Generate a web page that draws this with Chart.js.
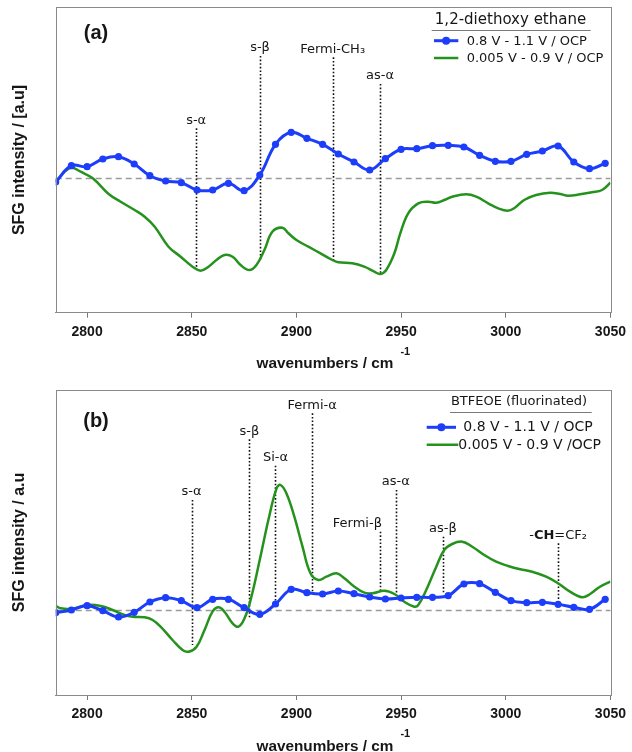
<!DOCTYPE html>
<html>
<head>
<meta charset="utf-8">
<script src="https://cdn.jsdelivr.net/npm/chart.js@4.4.0/dist/chart.umd.min.js"></script>
<style>
html, body { margin: 0; padding: 0; background: #fff; }
#wrap { position: relative; width: 632px; height: 752px; }
canvas { position: absolute; left: 0; }
</style>
</head>
<body>
<div id="wrap">
  <canvas id="chartA" width="632" height="376" style="top:0"></canvas>
  <canvas id="chartB" width="632" height="376" style="top:376px"></canvas>
</div>
<script>
// wavenumber ticks (cm-1)
const wnTicks = [2800, 2850, 2900, 2950, 3000, 3050];

// blue series is sampled every 7.5 cm-1 in both panels
const blueWn = [2785, 2792.5, 2800, 2807.5, 2815, 2822.5, 2830, 2837.5, 2845, 2852.5, 2860, 2867.5,
  2875, 2882.5, 2890, 2897.5, 2905, 2912.5, 2920, 2927.5, 2935, 2942.5, 2950, 2957.5,
  2965, 2972.5, 2980, 2987.5, 2995, 3002.5, 3010, 3017.5, 3025, 3032.5, 3040, 3047.5];

// (a) 1,2-diethoxy ethane
const aBlue = [-4, 12.3, 11.3, 19, 21.3, 14, 2.3, -3, -4.7, -12, -12, -5.3,
  -12.7, 3, 33.7, 45.7, 39.7, 33.7, 24, 16, 8, 19.3, 28.7, 29.3,
  32.3, 32.7, 31, 22.7, 16.7, 16.7, 23.7, 27, 32, 16, 9.3, 14.7];
const aGreenWn = [2785.1, 2789.3, 2792.6, 2796.9, 2802.7, 2810.3, 2816, 2822.7, 2827.5, 2832.3,
  2838.9, 2844.7, 2850.4, 2854.2, 2858, 2861.8, 2865.6, 2869.5, 2873.3, 2877.5,
  2880.9, 2884.7, 2888.5, 2893.3, 2896.2, 2900, 2905.7, 2911.5, 2917.2, 2920,
  2926.7, 2932.4, 2937.2, 2940.1, 2942.9, 2946.8, 2949.6, 2953.4, 2958.2, 2963,
  2966.8, 2970.6, 2974.4, 2981.1, 2985.9, 2991.6, 2996.4, 3000.8, 3004, 3008.8,
  3014.5, 3021.2, 3026, 3029.8, 3035.5, 3041.2, 3046, 3050];
const aGreen = [-4, 6.3, 10.3, 6.3, -0.3, -16, -23.7, -32, -38.7, -48.7,
  -68.7, -78.7, -88.7, -92.7, -88.7, -82, -77, -78.7, -87, -92,
  -87, -72, -53.7, -49.7, -55.3, -62, -68.7, -75.3, -82, -84.3,
  -85.3, -88.7, -93.7, -96, -92, -75.3, -55.3, -35.3, -25.3, -23.7,
  -24.7, -22, -18.7, -16.3, -18.7, -25.3, -30.3, -32.7, -30.3, -22,
  -17, -14.7, -16, -17.7, -16.3, -14.3, -12, -4.7];
const aPeaks = ['s-α', 's-β', 'Fermi-CH₃', 'as-α'];
const aPeakWn = [2852.1, 2882.6, 2917.3, 2939.9];
const aPeakTop = [49.7, 122, 120.7, 94];
const aPeakEnd = [-90.3, -82, -83.7, -96];

// (b) BTFEOE (fluorinated)
const bBlue = [-2.7, 0, 4.3, -0.7, -7, -2.3, 8, 12.3, 9.3, 2.3, 10.7, 10.7,
  2.3, -4.3, 6, 20.7, 17.3, 16, 19, 16.3, 13, 11, 12, 12.7,
  12.7, 14.3, 26, 26.3, 17.7, 9.3, 7.3, 7.7, 5.7, 2.7, 0.7, 10.7];
const bGreenWn = [2785.1, 2787.4, 2792.6, 2800, 2806.5, 2812.2, 2817.9, 2821.8, 2827.5, 2831.3,
  2835.1, 2840.8, 2845.6, 2848.5, 2852.3, 2856.1, 2859.9, 2862.8, 2865.6, 2869.5,
  2872.3, 2875.2, 2878.1, 2882.8, 2886.6, 2890.5, 2892.4, 2895.2, 2899, 2902.9,
  2906.7, 2910.5, 2914.3, 2919.1, 2922.9, 2927.7, 2932.4, 2936.3, 2942, 2946.8,
  2951.5, 2956.3, 2958.2, 2962, 2966.8, 2970.6, 2974.4, 2979.2, 2984, 2989.7,
  2995.4, 3001.1, 3006.9, 3012.6, 3019.3, 3025, 3030.7, 3036.5, 3040.3, 3045, 3050];
const bGreen = [4, 1.7, 1.3, 5, 4, 0, -5, -6.7, -7.3, -10,
  -16.7, -30, -40, -41.7, -36.7, -20, -1.7, 2.7, -1.7, -13.3,
  -16.7, -8.3, 10, 53.3, 90, 121.7, 125, 116.7, 93.3, 63.3,
  36.7, 30, 33.3, 36.7, 31.7, 23.3, 17.3, 16.7, 19.3, 16,
  8.3, 3.3, 5, 20, 43.3, 60, 66, 68.3, 63.3, 55,
  48.3, 44, 40.7, 38.3, 33.3, 26.7, 18.3, 12.7, 16, 23.3, 28.3];
const bPeaks = ['s-α', 's-β', 'Si-α', 'Fermi-α', 'Fermi-β', 'as-α', 'as-β', '-*CH*=CF₂'];
const bPeakWn = [2849.9, 2877.5, 2890, 2907.5, 2939.9, 2947.5, 2970, 3025];
const bPeakTop = [110, 170.7, 144.3, 196.7, 78.3, 120, 73.3, 66.7];
const bPeakEnd = [-35, -8.3, 6.7, 18.3, 18.3, 13.3, 16.7, 6.7];
const bPeakAlign = ['center', 'center', 'center', 'center', 'right', 'center', 'center', 'center'];

const BLUE = 'rgb(28,62,250)';
const GREEN = 'rgb(38,146,30)';
const INK = '#161616';
const SANS = '"Liberation Sans", Arial, sans-serif';
const LABEL = '"DejaVu Sans", sans-serif';

// text with *bold* parts
function richText(ctx, str, x, y, size, align) {
  const parts = str.split('*').map((t, i) => [t, (i % 2 ? 'bold ' : '') + size + 'px ' + LABEL]);
  let w = 0;
  parts.forEach(p => { ctx.font = p[1]; w += ctx.measureText(p[0]).width; });
  let cx = align === 'center' ? x - w / 2 : align === 'right' ? x - w : x;
  ctx.textAlign = 'left';
  parts.forEach(p => { ctx.font = p[1]; ctx.fillText(p[0], cx, y); cx += ctx.measureText(p[0]).width; });
}

function sfgPlugin(p) {
  return {
    id: 'sfg',
    beforeDatasetsDraw(chart) {
      const { ctx, chartArea: a, scales: { x, y } } = chart;
      ctx.save();
      const y0 = Math.round(y.getPixelForValue(0)) + 0.5;
      ctx.strokeStyle = '#9a9a9a';
      ctx.lineWidth = 1.3;
      ctx.setLineDash([6, 4]);
      ctx.beginPath(); ctx.moveTo(a.left, y0); ctx.lineTo(a.right, y0); ctx.stroke();
      ctx.strokeStyle = '#111';
      ctx.lineWidth = 1.6;
      ctx.setLineDash([1.6, 2]);
      p.peakWn.forEach((w, i) => {
        const px = Math.round(x.getPixelForValue(w)) + 0.5;
        ctx.beginPath();
        ctx.moveTo(px, y.getPixelForValue(p.peakTop[i]));
        ctx.lineTo(px, y.getPixelForValue(p.peakEnd[i]));
        ctx.stroke();
      });
      ctx.restore();
    },
    afterDraw(chart) {
      const { ctx, chartArea: a, scales: { x, y } } = chart;
      ctx.save();
      // frame
      ctx.strokeStyle = '#8a8a8a';
      ctx.lineWidth = 1;
      ctx.strokeRect(Math.round(a.left) + 0.5, Math.round(a.top) + 0.5, Math.round(a.width), Math.round(a.height));

      ctx.fillStyle = INK;
      ctx.textBaseline = 'middle';
      // peak labels
      p.peaks.forEach((s, i) => {
        const px = x.getPixelForValue(p.peakWn[i]);
        const al = p.peakAlign ? p.peakAlign[i] : 'center';
        richText(ctx, s, al === 'right' ? px + 2 : px, y.getPixelForValue(p.peakTop[i]) - 8, 13, al);
      });

      // panel letter
      ctx.font = 'bold 20px ' + SANS;
      ctx.textAlign = 'center';
      ctx.fillText(p.letter, 96, p.letterY);

      // y title
      ctx.save();
      ctx.translate(20, (a.top + a.bottom) / 2);
      ctx.rotate(-Math.PI / 2);
      ctx.font = 'bold 16px ' + SANS;
      ctx.fillText(p.yTitle, 0, 0);
      ctx.restore();

      // x title with superscript
      ctx.font = 'bold 15.3px ' + SANS;
      const t = 'wavenumbers / cm';
      const tw = ctx.measureText(t).width;
      const tx = 325;
      const ty = a.bottom + 51.5;
      ctx.fillText(t, tx, ty);
      ctx.font = 'bold 11px ' + SANS;
      ctx.textAlign = 'left';
      ctx.fillText('-1', tx + tw / 2 + 7, ty - 12.5);

      // legend
      const L = p.legend;
      ctx.textAlign = 'center';
      ctx.font = L.titleSize + 'px ' + LABEL;
      ctx.fillText(p.title, L.titleX, L.titleY);
      ctx.strokeStyle = '#7a7a7a';
      ctx.lineWidth = 1;
      ctx.beginPath(); ctx.moveTo(L.ruleX[0], L.titleY + 10.5); ctx.lineTo(L.ruleX[1], L.titleY + 10.5); ctx.stroke();
      ctx.font = L.size + 'px ' + LABEL;
      ctx.textAlign = 'left';
      [BLUE, GREEN].forEach((c, i) => {
        const ry = L.rowY[i];
        ctx.strokeStyle = c;
        ctx.lineWidth = i ? 2.5 : 3;
        ctx.beginPath(); ctx.moveTo(L.lineX[0], ry); ctx.lineTo(L.lineX[1][i], ry); ctx.stroke();
        if (!i) {
          ctx.fillStyle = c;
          ctx.beginPath(); ctx.arc((L.lineX[0] + L.lineX[1][i]) / 2, ry, 4, 0, Math.PI * 2); ctx.fill();
        }
        ctx.fillStyle = INK;
        ctx.fillText(p.names[i], L.textX[i], ry + 0.5);
      });
      ctx.restore();
    }
  };
}

function makePanel(id, p) {
  const xy = (xs, ys) => xs.map((v, i) => ({ x: v, y: ys[i] }));
  new Chart(document.getElementById(id), {
    type: 'line',
    data: {
      datasets: [
        { label: p.names[0], data: xy(blueWn, p.blue), borderColor: BLUE, backgroundColor: BLUE,
          borderWidth: 3, pointRadius: 3.6, pointHoverRadius: 3.6, pointBorderWidth: 0, tension: 0.4 },
        { label: p.names[1], data: xy(p.greenWn, p.green), borderColor: GREEN, backgroundColor: GREEN,
          borderWidth: 2.5, pointRadius: 0, tension: 0.4 }
      ]
    },
    options: {
      responsive: false,
      animation: false,
      devicePixelRatio: 1,
      layout: { padding: { left: 55.7, right: 16.7, top: p.top, bottom: 376 - p.bottom - 40 } },
      plugins: { legend: { display: false }, tooltip: { enabled: false } },
      scales: {
        x: {
          type: 'linear', min: 2785, max: 3050,
          afterBuildTicks: s => { s.ticks = wnTicks.map(v => ({ value: v })); },
          afterFit: s => { s.height = 40; },
          grid: { drawOnChartArea: false, drawTicks: true, tickLength: 5, color: '#777' },
          border: { color: '#8a8a8a' },
          ticks: { padding: 6, color: INK, maxRotation: 0,
                   font: { family: SANS, size: 14, weight: 'bold' }, callback: v => String(v) }
        },
        y: { display: false, min: p.yMin, max: p.yMax }
      }
    },
    plugins: [sfgPlugin(p)]
  });
}

makePanel('chartA', {
  blue: aBlue, greenWn: aGreenWn, green: aGreen,
  peaks: aPeaks, peakWn: aPeakWn, peakTop: aPeakTop, peakEnd: aPeakEnd,
  yMin: -134.7, yMax: 170.7, top: 7.3, bottom: 312.7,
  letter: '(a)', letterY: 33.3, yTitle: 'SFG intensity / [a.u]',
  title: '1,2-diethoxy ethane', names: ['0.8 V - 1.1 V / OCP', '0.005 V - 0.9 V / OCP'],
  legend: { titleSize: 15, size: 13, titleX: 510.5, titleY: 20, ruleX: [431.7, 590.7],
            rowY: [40.7, 58], lineX: [434, [458.3, 458.3]], textX: [466.7, 466.7] }
});

makePanel('chartB', {
  blue: bBlue, greenWn: bGreenWn, green: bGreen,
  peaks: bPeaks, peakWn: bPeakWn, peakTop: bPeakTop, peakEnd: bPeakEnd, peakAlign: bPeakAlign,
  yMin: -85, yMax: 220, top: 14, bottom: 319,
  letter: '(b)', letterY: 45.7, yTitle: 'SFG intensity / a.u',
  title: 'BTFEOE (fluorinated)', names: ['0.8 V - 1.1 V / OCP', '0.005 V - 0.9 V /OCP'],
  legend: { titleSize: 13, size: 14, titleX: 519, titleY: 26, ruleX: [450, 591.7],
            rowY: [51.3, 68.7], lineX: [426.7, [456, 458.3]], textX: [463.3, 458.3] }
});
</script>
</body>
</html>
